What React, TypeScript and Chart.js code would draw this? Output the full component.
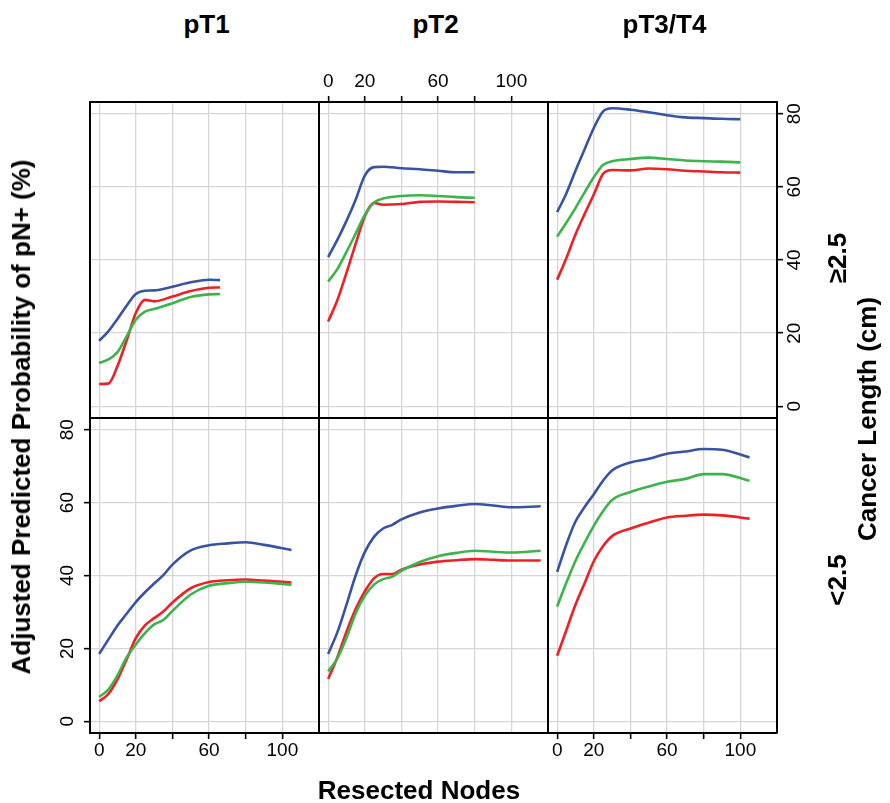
import React, { useEffect, useRef } from "react";
import { Chart, registerables } from "chart.js";

Chart.register(...registerables);

// ---- Facet categories ----
const tumourStages = ["pT1", "pT2", "pT3/T4"];
const cancerLengths = ["≥2.5", "<2.5"];

// ---- Axis ticks ----
const xTicks = [0, 20, 40, 60, 80, 100];
const xTickLabels = [0, 20, 60, 100];
const yTicks = [0, 20, 40, 60, 80];
const xRange = [-5, 120];
const yRange = [-3.2, 83.2];

// ---- pT1, cancer length >= 2.5 ----
const nodes_pT1_ge = [0, 5, 10, 15, 20, 25, 30, 40, 50, 60, 66];
const blue_pT1_ge = [17.9, 20.5, 23.9, 27.5, 30.7, 31.6, 31.7, 32.7, 33.9, 34.6, 34.5];
const green_pT1_ge = [11.8, 12.8, 14.8, 19.1, 23.7, 25.9, 26.6, 28.2, 29.9, 30.6, 30.7];
const red_pT1_ge = [6.1, 6.2, 11.0, 18.0, 25.5, 29.1, 28.7, 30.0, 31.5, 32.4, 32.5];

// ---- pT2, cancer length >= 2.5 ----
const nodes_pT2_ge = [0, 5, 10, 15, 20, 25, 30, 40, 50, 60, 70, 80];
const blue_pT2_ge = [40.8, 45.5, 50.7, 56.5, 63.1, 65.4, 65.5, 65.1, 64.8, 64.4, 64.0, 64.0];
const green_pT2_ge = [34.1, 37.5, 42.2, 47.2, 52.3, 55.7, 56.8, 57.5, 57.7, 57.5, 57.2, 57.0];
const red_pT2_ge = [23.2, 29.0, 36.5, 44.4, 51.9, 55.6, 55.1, 55.3, 55.9, 56.0, 55.9, 55.8];

// ---- pT3/T4, cancer length >= 2.5 ----
const nodes_pT3_ge = [0, 5, 10, 15, 20, 25, 30, 40, 50, 60, 70, 80, 90, 100];
const blue_pT3_ge = [53.1, 58.2, 64.4, 70.3, 76.1, 80.6, 81.5, 81.1, 80.4, 79.6, 79.0, 78.8, 78.6, 78.5];
const green_pT3_ge = [46.4, 50.2, 54.2, 58.5, 62.6, 66.0, 67.0, 67.6, 68.0, 67.6, 67.2, 67.0, 66.9, 66.7];
const red_pT3_ge = [34.6, 40.5, 47.0, 52.6, 57.9, 63.5, 64.6, 64.5, 65.0, 64.8, 64.4, 64.2, 64.0, 63.9];

// ---- pT1, cancer length < 2.5 ----
const nodes_pT1_lt = [0, 5, 10, 15, 20, 25, 30, 35, 40, 50, 60, 70, 80, 90, 105];
const blue_pT1_lt = [18.5, 22.4, 26.3, 29.5, 32.7, 35.4, 37.8, 40.1, 43.0, 46.9, 48.3, 48.8, 49.1, 48.4, 47.0];
const green_pT1_lt = [6.7, 8.7, 12.6, 17.5, 21.1, 24.2, 26.6, 27.8, 30.3, 34.8, 37.2, 37.9, 38.3, 38.1, 37.5];
const red_pT1_lt = [5.5, 7.5, 11.5, 17.0, 22.8, 26.3, 28.3, 30.1, 32.6, 36.5, 38.2, 38.7, 38.9, 38.6, 38.1];

// ---- pT2, cancer length < 2.5 ----
const nodes_pT2_lt = [0, 5, 10, 15, 20, 25, 30, 35, 40, 50, 60, 70, 80, 90, 100, 116];
const blue_pT2_lt = [18.5, 24.4, 32.0, 40.0, 46.4, 50.6, 52.9, 53.9, 55.4, 57.3, 58.4, 59.1, 59.6, 59.2, 58.7, 59.0];
const green_pT2_lt = [13.7, 17.2, 22.9, 29.6, 34.4, 37.5, 39.0, 39.7, 41.3, 43.7, 45.3, 46.2, 46.8, 46.5, 46.3, 46.8];
const red_pT2_lt = [11.6, 17.5, 24.6, 30.8, 35.6, 39.2, 40.4, 40.4, 41.6, 43.0, 43.8, 44.2, 44.5, 44.3, 44.1, 44.1];

// ---- pT3/T4, cancer length < 2.5 ----
const nodes_pT3_lt = [0, 5, 10, 15, 20, 25, 30, 40, 50, 60, 70, 80, 90, 105];
const blue_pT3_lt = [41.0, 48.5, 54.8, 58.8, 62.3, 66.0, 68.8, 71.0, 72.0, 73.4, 74.0, 74.7, 74.5, 72.4];
const green_pT3_lt = [31.5, 38.0, 44.0, 49.0, 53.6, 57.6, 60.7, 62.9, 64.4, 65.7, 66.5, 67.8, 67.8, 66.0];
const red_pT3_lt = [18.0, 25.0, 32.0, 37.9, 43.9, 48.0, 50.8, 52.9, 54.5, 55.9, 56.4, 56.7, 56.5, 55.6];

// ---- Styling / layout ----
const FONT = "'Liberation Sans', Arial, Helvetica, sans-serif";
const BLUE = "#3953a4";
const GREEN = "#3cb44b";
const RED = "#ee1f25";
const GRID = "#d6d6d6";
const PANEL_LEFT = [90, 319, 548];
const PANEL_TOP = [102, 418];
const PANEL_W = 229;
const PANEL_H = [316, 315];
const M = 60;

type PanelSpec = {
  row: number;
  col: number;
  nodes: number[];
  blue: number[];
  green: number[];
  red: number[];
};

const panels: PanelSpec[] = [
  { row: 0, col: 0, nodes: nodes_pT1_ge, blue: blue_pT1_ge, green: green_pT1_ge, red: red_pT1_ge },
  { row: 0, col: 1, nodes: nodes_pT2_ge, blue: blue_pT2_ge, green: green_pT2_ge, red: red_pT2_ge },
  { row: 0, col: 2, nodes: nodes_pT3_ge, blue: blue_pT3_ge, green: green_pT3_ge, red: red_pT3_ge },
  { row: 1, col: 0, nodes: nodes_pT1_lt, blue: blue_pT1_lt, green: green_pT1_lt, red: red_pT1_lt },
  { row: 1, col: 1, nodes: nodes_pT2_lt, blue: blue_pT2_lt, green: green_pT2_lt, red: red_pT2_lt },
  { row: 1, col: 2, nodes: nodes_pT3_lt, blue: blue_pT3_lt, green: green_pT3_lt, red: red_pT3_lt },
];

function makeConfig(p: PanelSpec): any {
  const showBottom = p.row === 1 && p.col !== 1;
  const showTop = p.row === 0 && p.col === 1;
  const showLeft = p.row === 1 && p.col === 0;
  const showRight = p.row === 0 && p.col === 2;
  const pts = (ys: number[]) => p.nodes.map((x, i) => ({ x, y: ys[i] }));
  const line = (label: string, ys: number[], color: string) => ({
    label,
    data: pts(ys),
    borderColor: color,
    backgroundColor: color,
    borderWidth: 2.6,
    pointRadius: 0,
    cubicInterpolationMode: "monotone",
    fill: false,
    xAxisID: "x",
    yAxisID: "y",
  });
  const fitH = (s: any) => {
    s.height = M;
  };
  const fitW = (s: any) => {
    s.width = M;
  };
  const setX = (s: any) => {
    s.ticks = xTicks.map((v) => ({ value: v }));
  };
  const setY = (s: any) => {
    s.ticks = yTicks.map((v) => ({ value: v }));
  };
  const tickFont = { family: FONT, size: 19 };
  const xLabel = (v: any) => (xTickLabels.includes(Number(v)) ? String(v) : "");
  const border = { display: true, color: "#000", width: 2 };
  const gridBase = { tickLength: 6, tickColor: "#000", tickWidth: 1.6, color: GRID, lineWidth: 1.3 };
  return {
    type: "line",
    data: {
      datasets: [line("green", p.green, GREEN), line("red", p.red, RED), line("blue", p.blue, BLUE)],
    },
    options: {
      responsive: false,
      animation: false,
      events: [],
      layout: { padding: 0 },
      plugins: { legend: { display: false }, tooltip: { enabled: false }, title: { display: false } },
      scales: {
        x: {
          type: "linear",
          position: "bottom",
          min: xRange[0],
          max: xRange[1],
          afterBuildTicks: setX,
          afterFit: fitH,
          grid: { ...gridBase, drawTicks: showBottom },
          border,
          ticks: {
            display: showBottom,
            autoSkip: false,
            minRotation: 0,
            maxRotation: 0,
            padding: 0,
            font: tickFont,
            color: "#000",
            callback: xLabel,
          },
        },
        x2: {
          type: "linear",
          position: "top",
          min: xRange[0],
          max: xRange[1],
          afterBuildTicks: setX,
          afterFit: fitH,
          grid: { ...gridBase, drawOnChartArea: false, drawTicks: showTop },
          border,
          ticks: {
            display: showTop,
            autoSkip: false,
            minRotation: 0,
            maxRotation: 0,
            padding: 3,
            font: tickFont,
            color: "#000",
            callback: xLabel,
          },
        },
        y: {
          type: "linear",
          position: "left",
          min: yRange[0],
          max: yRange[1],
          afterBuildTicks: setY,
          afterFit: fitW,
          grid: { ...gridBase, drawTicks: showLeft },
          border,
          ticks: {
            display: showLeft,
            autoSkip: false,
            minRotation: 90,
            maxRotation: 90,
            crossAlign: "center",
            padding: 6,
            font: tickFont,
            color: "#000",
          },
        },
        y2: {
          type: "linear",
          position: "right",
          min: yRange[0],
          max: yRange[1],
          afterBuildTicks: setY,
          afterFit: fitW,
          grid: { ...gridBase, drawOnChartArea: false, drawTicks: showRight },
          border,
          ticks: {
            display: showRight,
            autoSkip: false,
            minRotation: 90,
            maxRotation: 90,
            crossAlign: "center",
            padding: 1.5,
            font: tickFont,
            color: "#000",
          },
        },
      },
    },
  };
}

function Panel({ spec }: { spec: PanelSpec }) {
  const ref = useRef<HTMLCanvasElement | null>(null);
  const w = PANEL_W + 2 * M;
  const h = PANEL_H[spec.row] + 2 * M;
  useEffect(() => {
    if (!ref.current) return;
    const chart = new Chart(ref.current, makeConfig(spec));
    return () => chart.destroy();
  }, [spec]);
  return (
    <canvas
      ref={ref}
      width={w}
      height={h}
      style={{
        position: "absolute",
        left: PANEL_LEFT[spec.col] - M,
        top: PANEL_TOP[spec.row] - M,
        width: w,
        height: h,
      }}
    />
  );
}

function Label({ text, x, y, rotate }: { text: string; x: number; y: number; rotate?: boolean }) {
  return (
    <div
      style={{
        position: "absolute",
        left: x,
        top: y,
        transform: `translate(-50%, -50%)${rotate ? " rotate(-90deg)" : ""}`,
        whiteSpace: "nowrap",
        fontFamily: FONT,
        fontWeight: "bold",
        fontSize: 26,
        lineHeight: "26px",
        color: "#000",
      }}
    >
      {text}
    </div>
  );
}

export default function App() {
  return (
    <div
      style={{
        position: "absolute",
        left: 0,
        top: 0,
        width: 890,
        height: 803,
        background: "#fff",
        overflow: "hidden",
      }}
    >
      {panels.map((p, i) => (
        <Panel key={i} spec={p} />
      ))}
      {tumourStages.map((s, c) => (
        <Label key={s} text={s} x={PANEL_LEFT[c] + PANEL_W / 2 + 2} y={24} />
      ))}
      {cancerLengths.map((s, r) => (
        <Label key={s} text={s} x={836.5} y={r === 0 ? 258 : 580} rotate />
      ))}
      <Label text="Adjusted Predicted Probability of pN+ (%)" x={21} y={417} rotate />
      <Label text="Resected Nodes" x={419} y={790} />
      <Label text="Cancer Length (cm)" x={867} y={419} rotate />
    </div>
  );
}
